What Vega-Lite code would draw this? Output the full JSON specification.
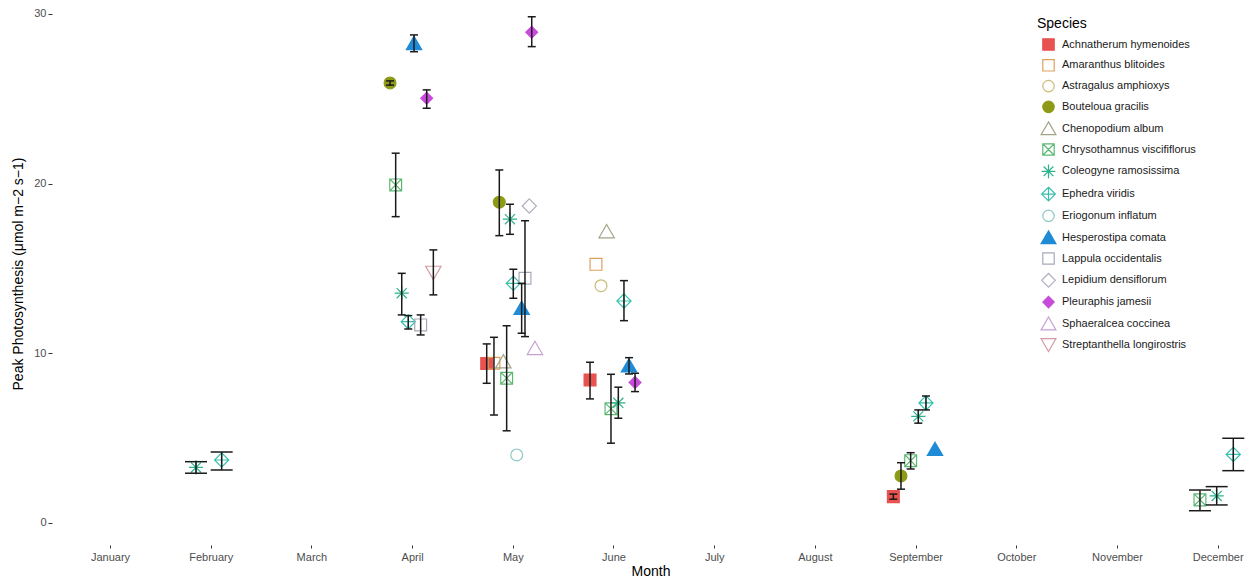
{
  "$schema": "https://vega.github.io/schema/vega-lite/v6.json",
  "autosize": {"type": "none"},
  "padding": {"left": 52, "top": 2, "right": 0, "bottom": 35},
  "width": 1197,
  "height": 543,
  "background": "white",
  "config": {
    "font": "Liberation Sans",
    "view": {"stroke": null},
    "axis": {"grid": false, "domain": false, "tickColor": "#333333", "tickSize": 4, "labelColor": "#4d4d4d", "labelFontSize": 11, "titleFontSize": 14, "titleFontWeight": "normal", "titleColor": "#000000", "labelFont": "Liberation Sans", "titleFont": "Liberation Sans"},
    "legend": {"titleFontSize": 14, "titleFontWeight": "normal", "titleColor": "#000000", "labelFontSize": 11, "labelColor": "#1a1a1a", "symbolSize": 130, "symbolStrokeWidth": 1.2, "rowPadding": 3.8, "padding": 0, "titlePadding": 7, "labelOffset": 7, "symbolOffset": 5, "labelFont": "Liberation Sans", "titleFont": "Liberation Sans"}
  },
  "data": {"values": [
    {"species": "Coleogyne ramosissima", "month": 1.854, "value": 3.27, "lo": 2.93, "hi": 3.61},
    {"species": "Ephedra viridis", "month": 2.109, "value": 3.71, "lo": 3.12, "hi": 4.18},
    {"species": "Bouteloua gracilis", "month": 3.781, "value": 25.93, "lo": 25.8, "hi": 26.05},
    {"species": "Hesperostipa comata", "month": 4.019, "value": 28.26, "lo": 27.77, "hi": 28.76},
    {"species": "Pleuraphis jamesii", "month": 4.145, "value": 25.03, "lo": 24.44, "hi": 25.52},
    {"species": "Chrysothamnus viscififlorus", "month": 3.837, "value": 19.92, "lo": 18.05, "hi": 21.79},
    {"species": "Coleogyne ramosissima", "month": 3.897, "value": 13.54, "lo": 12.26, "hi": 14.71},
    {"species": "Ephedra viridis", "month": 3.962, "value": 11.86, "lo": 11.43, "hi": 12.22},
    {"species": "Lappula occidentalis", "month": 4.085, "value": 11.67, "lo": 11.08, "hi": 12.26},
    {"species": "Streptanthella longirostris", "month": 4.211, "value": 14.76, "lo": 13.44, "hi": 16.09},
    {"species": "Pleuraphis jamesii", "month": 5.188, "value": 28.92, "lo": 28.07, "hi": 29.83},
    {"species": "Bouteloua gracilis", "month": 4.866, "value": 18.9, "lo": 16.93, "hi": 20.8},
    {"species": "Coleogyne ramosissima", "month": 4.972, "value": 17.9, "lo": 17.01, "hi": 18.78},
    {"species": "Lepidium densiflorum", "month": 5.164, "value": 18.68},
    {"species": "Ephedra viridis", "month": 5.005, "value": 14.12, "lo": 13.24, "hi": 14.95},
    {"species": "Lappula occidentalis", "month": 5.121, "value": 14.42, "lo": 10.98, "hi": 17.81},
    {"species": "Hesperostipa comata", "month": 5.088, "value": 12.65, "lo": 11.18, "hi": 14.12},
    {"species": "Sphaeralcea coccinea", "month": 5.22, "value": 10.29},
    {"species": "Achnatherum hymenoides", "month": 4.741, "value": 9.4, "lo": 8.23, "hi": 10.55},
    {"species": "Amaranthus blitoides", "month": 4.813, "value": 9.41, "lo": 6.36, "hi": 10.94},
    {"species": "Chenopodium album", "month": 4.906, "value": 9.5},
    {"species": "Chrysothamnus viscififlorus", "month": 4.939, "value": 8.53, "lo": 5.43, "hi": 11.62},
    {"species": "Eriogonum inflatum", "month": 5.039, "value": 4.01},
    {"species": "Chenopodium album", "month": 5.932, "value": 17.17},
    {"species": "Amaranthus blitoides", "month": 5.826, "value": 15.24},
    {"species": "Astragalus amphioxys", "month": 5.876, "value": 13.98},
    {"species": "Ephedra viridis", "month": 6.104, "value": 13.08, "lo": 11.92, "hi": 14.28},
    {"species": "Achnatherum hymenoides", "month": 5.767, "value": 8.43, "lo": 7.31, "hi": 9.47},
    {"species": "Hesperostipa comata", "month": 6.154, "value": 9.26, "lo": 8.78, "hi": 9.74},
    {"species": "Pleuraphis jamesii", "month": 6.214, "value": 8.28, "lo": 7.74, "hi": 8.82},
    {"species": "Chrysothamnus viscififlorus", "month": 5.975, "value": 6.73, "lo": 4.7, "hi": 8.76},
    {"species": "Coleogyne ramosissima", "month": 6.048, "value": 7.08, "lo": 6.17, "hi": 8.0},
    {"species": "Achnatherum hymenoides", "month": 8.779, "value": 1.55, "lo": 1.4, "hi": 1.7},
    {"species": "Bouteloua gracilis", "month": 8.855, "value": 2.77, "lo": 1.99, "hi": 3.55},
    {"species": "Chrysothamnus viscififlorus", "month": 8.951, "value": 3.67, "lo": 3.18, "hi": 4.14},
    {"species": "Hesperostipa comata", "month": 9.193, "value": 4.34},
    {"species": "Coleogyne ramosissima", "month": 9.027, "value": 6.28, "lo": 5.88, "hi": 6.66},
    {"species": "Ephedra viridis", "month": 9.103, "value": 7.07, "lo": 6.66, "hi": 7.48},
    {"species": "Ephedra viridis", "month": 12.155, "value": 4.04, "lo": 3.08, "hi": 4.99},
    {"species": "Chrysothamnus viscififlorus", "month": 11.824, "value": 1.36, "lo": 0.72, "hi": 1.94},
    {"species": "Coleogyne ramosissima", "month": 11.99, "value": 1.59, "lo": 1.06, "hi": 2.14}
  ]},
  "encoding": {
    "x": {"field": "month", "type": "quantitative", "scale": {"domain": [0.424, 12.311], "nice": false, "zero": false},
      "axis": {"title": "Month", "values": [1,2,3,4,5,6,7,8,9,10,11,12], "labelExpr": "['January','February','March','April','May','June','July','August','September','October','November','December'][datum.value-1]", "labelPadding": 3, "titlePadding": 2, "tickSize": 3}}
  },
  "layer": [
    {
      "mark": {"type": "point", "filled": false, "size": 140, "strokeWidth": 1.2, "opacity": 1},
      "encoding": {
        "y": {"field": "value", "type": "quantitative", "scale": {"domain": [-1.3, 30.7], "nice": false, "zero": false},
          "axis": {"title": "Peak Photosynthesis (μmol m−2 s−1)", "values": [0, 10, 20, 30], "labelPadding": 2, "titlePadding": 8}},
        "shape": {"field": "species", "type": "nominal", "title": "Species",
          "scale": {"domain": ["Achnatherum hymenoides","Amaranthus blitoides","Astragalus amphioxys","Bouteloua gracilis","Chenopodium album","Chrysothamnus viscififlorus","Coleogyne ramosissima","Ephedra viridis","Eriogonum inflatum","Hesperostipa comata","Lappula occidentalis","Lepidium densiflorum","Pleuraphis jamesii","Sphaeralcea coccinea","Streptanthella longirostris"],
            "range": ["square","square","circle","circle","M0,-1.2L1.3,1.05L-1.3,1.05Z","M-1,-1L1,-1L1,1L-1,1Z M-1,-1L1,1 M1,-1L-1,1","M0,-1.2L0,1.2 M-1.2,0L1.2,0 M-0.85,-0.85L0.85,0.85 M0.85,-0.85L-0.85,0.85","M0,-1.2L1.2,0L0,1.2L-1.2,0Z M0,-1.2L0,1.2 M-1.2,0L1.2,0","circle","M0,-1.2L1.3,1.05L-1.3,1.05Z","square","M0,-1.2L1.2,0L0,1.2L-1.2,0Z","diamond","M0,-1.2L1.3,1.05L-1.3,1.05Z","M0,1.2L1.3,-1.05L-1.3,-1.05Z"]},
          "legend": {"orient": "none", "legendX": 985, "legendY": 15}},
        "stroke": {"field": "species", "type": "nominal", "title": "Species",
          "scale": {"domain": ["Achnatherum hymenoides","Amaranthus blitoides","Astragalus amphioxys","Bouteloua gracilis","Chenopodium album","Chrysothamnus viscififlorus","Coleogyne ramosissima","Ephedra viridis","Eriogonum inflatum","Hesperostipa comata","Lappula occidentalis","Lepidium densiflorum","Pleuraphis jamesii","Sphaeralcea coccinea","Streptanthella longirostris"],
            "range": ["#E8524F","#DDA15E","#C9BC74","#8E9A16","#A3A388","#5DB874","#2DB38C","#3ABFAE","#8CC8C4","#1F8BD6","#A6AAB8","#B3ADBD","#C84ADB","#C6A0D3","#D499A3"]},
          "legend": {"orient": "none", "legendX": 985, "legendY": 15}},
        "fill": {"field": "species", "type": "nominal", "title": "Species",
          "scale": {"domain": ["Achnatherum hymenoides","Amaranthus blitoides","Astragalus amphioxys","Bouteloua gracilis","Chenopodium album","Chrysothamnus viscififlorus","Coleogyne ramosissima","Ephedra viridis","Eriogonum inflatum","Hesperostipa comata","Lappula occidentalis","Lepidium densiflorum","Pleuraphis jamesii","Sphaeralcea coccinea","Streptanthella longirostris"],
            "range": ["#E8524F","transparent","transparent","#8E9A16","transparent","transparent","transparent","transparent","transparent","#1F8BD6","transparent","transparent","#C84ADB","transparent","transparent"]},
          "legend": {"orient": "none", "legendX": 985, "legendY": 15}}
      }
    },
    {
      "transform": [{"filter": "isValid(datum.lo)"}],
      "mark": {"type": "rule", "color": "#1a1a1a", "strokeWidth": 1.5},
      "encoding": {
        "y": {"field": "lo", "type": "quantitative"},
        "y2": {"field": "hi"}
      }
    },
    {
      "transform": [{"filter": "isValid(datum.lo)"}],
      "mark": {"type": "tick", "orient": "horizontal", "color": "#1a1a1a", "thickness": 1.5, "opacity": 1},
      "encoding": {
        "y": {"field": "lo", "type": "quantitative"},
        "size": {"condition": {"test": "datum.month < 3 || datum.month > 11", "value": 22}, "value": 8}
      }
    },
    {
      "transform": [{"filter": "isValid(datum.lo)"}],
      "mark": {"type": "tick", "orient": "horizontal", "color": "#1a1a1a", "thickness": 1.5, "opacity": 1},
      "encoding": {
        "y": {"field": "hi", "type": "quantitative"},
        "size": {"condition": {"test": "datum.month < 3 || datum.month > 11", "value": 22}, "value": 8}
      }
    }
  ]
}
